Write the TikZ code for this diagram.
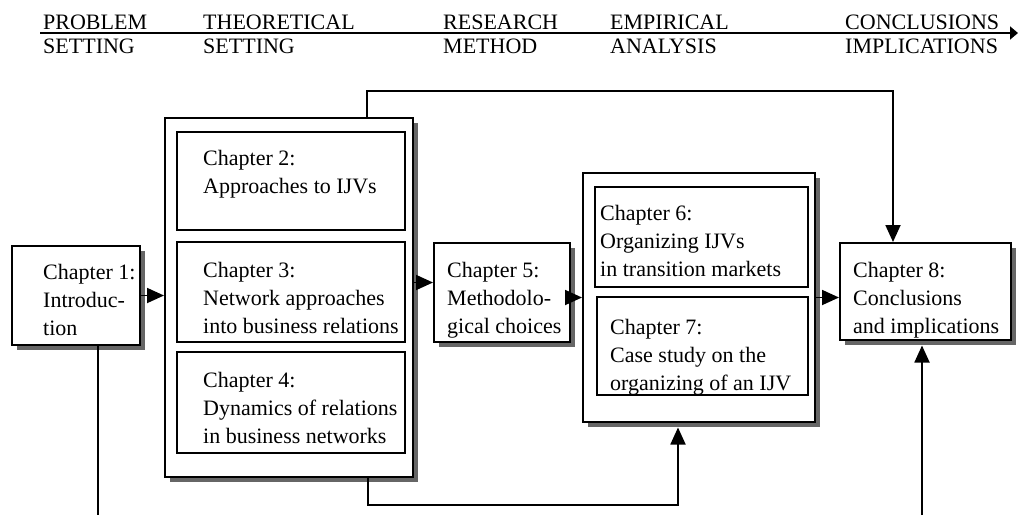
\documentclass[tikz,border=0pt]{standalone}
\usepackage{fontspec}
\setmainfont{Liberation Serif}
\usetikzlibrary{arrows.meta,shadows}
\begin{document}
\begin{tikzpicture}[x=1pt,y=-1pt,
  box/.style={draw, line width=2pt, fill=white, inner sep=0pt},
  shbox/.style={box, drop shadow={shadow xshift=4.5pt, shadow yshift=-4.5pt, fill=black!60, opacity=1}},
  lbl/.style={font=\fontsize{22}{28}\selectfont, align=left, inner sep=0pt, anchor=base west},
  head/.style={font=\fontsize{22}{24}\selectfont, inner sep=0pt, anchor=base west},
  link/.style={line width=1.8pt},
  arr/.style={link, -{Triangle[length=17pt,width=15pt]}},
  harr/.style={link, -{Triangle[length=8pt,width=13pt]}},
]
\useasboundingbox (0,0) rectangle (1018,515);

% phase headings along the top axis
\node[head] (h1) at (43,29.5) {PROBLEM};
\node[head] (h1b) at (43,53) {SETTING};
\node[head] (h2) at (203,29.5) {THEORETICAL};
\node[head] (h2b) at (203,53) {SETTING};
\node[head] (h3) at (443,29.5) {RESEARCH};
\node[head] (h3b) at (443,53) {METHOD};
\node[head] (h4) at (610,29.5) {EMPIRICAL};
\node[head] (h4b) at (610,53) {ANALYSIS};
\node[head] (h5) at (845,29.5) {CONCLUSIONS};
\node[head] (h5b) at (845,53) {IMPLICATIONS};
\coordinate (axisL) at (40,33);
\coordinate (axisR) at (1018,33);
\draw[harr] (axisL) -- (axisR);

% outer boxes (with shadows)
\node[shbox, minimum width=128pt, minimum height=99pt] (c1) at (76,295.5) {};
\node[shbox, minimum width=248pt, minimum height=359pt] (theory) at (289,297.5) {};
\node[shbox, minimum width=136pt, minimum height=99pt] (c5) at (502,292.5) {};
\node[shbox, minimum width=232pt, minimum height=249pt] (emp) at (699,297.5) {};
\node[shbox, minimum width=171pt, minimum height=97pt] (c8) at (925.5,291.5) {};

% inner chapter boxes
\node[box, minimum width=228pt, minimum height=98pt] (c2) at (291,181) {};
\node[box, minimum width=228pt, minimum height=100pt] (c3) at (291,292) {};
\node[box, minimum width=228pt, minimum height=101pt] (c4) at (291,402.5) {};
\node[box, minimum width=213pt, minimum height=100pt] (c6) at (701.5,237) {};
\node[box, minimum width=211pt, minimum height=98pt] (c7) at (702.5,346) {};

% chapter titles (positioned by the baseline of their last line)
\node[lbl] (t1) at (43,335) {Chapter 1:\\Introduc-\\tion};
\node[lbl] (t2) at (203,193) {Chapter 2:\\Approaches to IJVs};
\node[lbl] (t3) at (203,333) {Chapter 3:\\Network approaches\\into business relations};
\node[lbl] (t4) at (203,443) {Chapter 4:\\Dynamics of relations\\in business networks};
\node[lbl] (t5) at (447,333) {Chapter 5:\\Methodolo-\\gical choices};
\node[lbl] (t6) at (600,276) {Chapter 6:\\Organizing IJVs\\in transition markets};
\node[lbl] (t7) at (610,390) {Chapter 7:\\Case study on the\\organizing of an IJV};
\node[lbl] (t8) at (853,333) {Chapter 8:\\Conclusions\\and implications};

% flow between chapters
\draw[arr] (c1.east) -- (c1.east -| theory.west);
\coordinate (in5) at ([yshift=10pt]c5.west);
\draw[arr] (in5 -| theory.east) -- (in5);
\draw[arr] (c5.east |- emp.west) -- (emp.west);
\draw[arr] (emp.east) -- (emp.east -| c8.west);

% route over the top from the theory block to the conclusions
\coordinate (topL) at (367,91);
\coordinate (topR) at (893,91);
\draw[arr] (topL |- theory.north) -- (topL) -- (topR) -- (topR |- c8.north);

% route underneath from the theory block to the empirical block
\coordinate (botL) at (368,505);
\coordinate (botR) at (678,505);
\draw[arr, shorten >=4.5pt] (botL |- theory.south) -- (botL) -- (botR) -- (botR |- emp.south);

% lines running off the bottom edge
\coordinate (e1) at (98,515);
\draw[link] (e1 |- c1.south) -- (e1);
\coordinate (e8) at (922,515);
\draw[arr, shorten >=4.5pt] (e8) -- (e8 |- c8.south);
\end{tikzpicture}
\end{document}
